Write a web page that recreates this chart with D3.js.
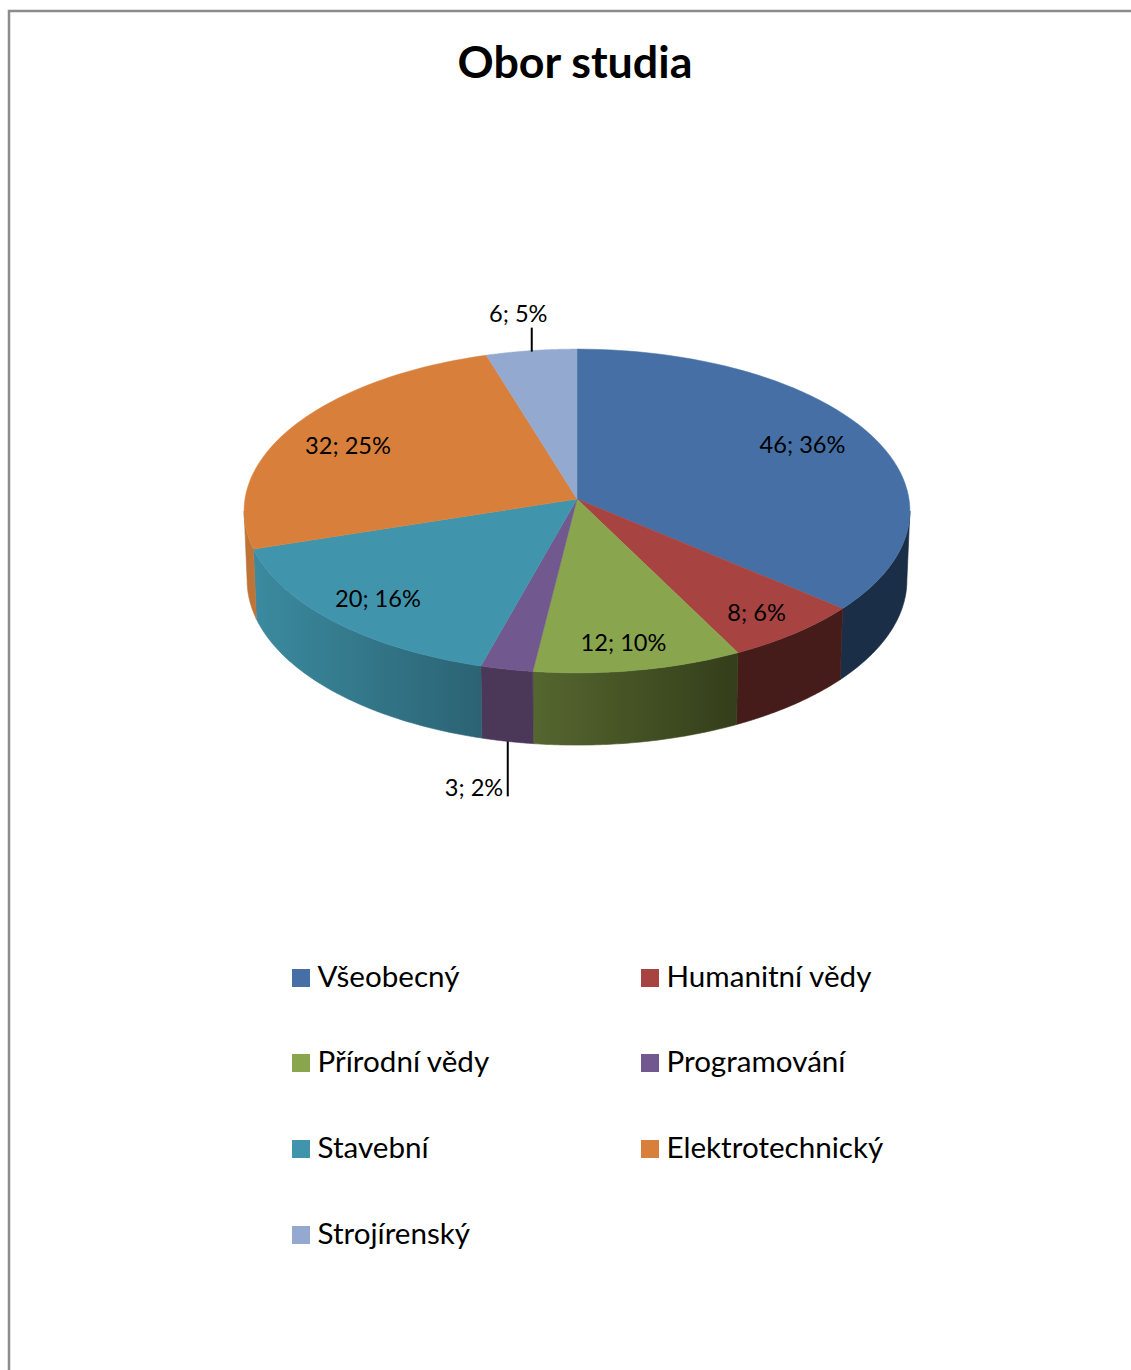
<!DOCTYPE html>
<html><head><meta charset="utf-8">
<script src="https://cdn.jsdelivr.net/npm/d3@7"></script>
<style>html,body{margin:0;padding:0;background:#fff}svg{display:block}text{font-family:Lato,"Open Sans",sans-serif;fill:#000}</style>
</head><body><div id="c"></div>
<script>
const categories = ["Všeobecný","Humanitní vědy","Přírodní vědy","Programování","Stavební","Elektrotechnický","Strojírenský"];
const values = [46,8,12,3,20,32,6];
const percents = [36,6,10,2,16,25,5];
const topColors = ["#4670a5","#a74442","#89a54e","#71588f","#4095ad","#d8803b","#93a9cf"];
const sideFrom = ["#1a2e47","#451c1a","#56662f","#4b3757","#3b8a9f","#bf7437","#93a9cf"];
const sideTo = ["#1a2e47","#451c1a","#333e1a","#4b3757","#2b6373","#bf7437","#93a9cf"];
const labelRadius = [0.78,0.84,0.86,0,0.83,0.8,0];
const labelNudge = [[-4,-3],[-2,2.5],[-6,-1.5],[0,0],[1,-1],[0,5],[0,0]];
const legendCols = [292,641];
const legendRows = [977,1062,1148,1234];

const W=1131,H=1370,cx=577;
const svg=d3.select("#c").append("svg").attr("width",W).attr("height",H);
const defs=svg.append("defs");

// Perspective projection of the disc: top face and bottom face
const topDisc={y0:499,a:161,b:332,k:0.074};
const botDisc={y0:568,a:164,b:329,k:0.074};
function project(d,r,t){
  const u=r*Math.sin(t),v=-r*Math.cos(t),q=1-d.k*v;
  return [cx+d.b*u/q,d.y0+d.a*v/q];
}
const arcPts=(d,t0,t1)=>d3.range(0,61).map(i=>project(d,1,t0+(t1-t0)*i/60));
const line=d3.line();
const arcs=d3.pie().sort(null)(values);

// frame
svg.append("path").attr("d",`M${W},11H9V${H}`).attr("fill","none").attr("stroke","#8c8c8c").attr("stroke-width",2.5);

// side walls: only the part between the two silhouette points faces the viewer
const visFrom=Math.acos(-topDisc.k),visTo=2*Math.PI-visFrom;
arcs.forEach((s,i)=>{
  const t0=Math.max(s.startAngle,visFrom),t1=Math.min(s.endAngle,visTo);
  if(t1<=t0) return;
  const pts=arcPts(topDisc,t0,t1).concat(arcPts(botDisc,t0,t1).reverse());
  const id="g"+i,xs=pts.map(p=>p[0]);
  const g=defs.append("linearGradient").attr("id",id).attr("gradientUnits","userSpaceOnUse")
    .attr("x1",d3.min(xs)).attr("x2",d3.max(xs)).attr("y1",0).attr("y2",0);
  g.append("stop").attr("offset",0).attr("stop-color",sideFrom[i]);
  g.append("stop").attr("offset",1).attr("stop-color",sideTo[i]);
  svg.append("path").attr("d",line(pts)+"Z").attr("fill",`url(#${id})`).attr("stroke",`url(#${id})`).attr("stroke-width",0.6);
});
// top face
arcs.forEach((s,i)=>{
  const pts=[project(topDisc,0,0)].concat(arcPts(topDisc,s.startAngle,s.endAngle));
  svg.append("path").attr("d",line(pts)+"Z").attr("fill",topColors[i]).attr("stroke",topColors[i]).attr("stroke-width",0.5);
});

// labels
const labelSize=23.6;
arcs.forEach((s,i)=>{
  const mid=(s.startAngle+s.endAngle)/2,txt=`${values[i]}; ${percents[i]}%`;
  if(labelRadius[i]>0){
    const p=project(topDisc,labelRadius[i],mid);
    svg.append("text").attr("x",p[0]+labelNudge[i][0]).attr("y",p[1]+labelNudge[i][1]).attr("dy","0.35em")
      .attr("text-anchor","middle").attr("font-size",labelSize).text(txt);
  } else if(Math.cos(mid)>0){ // leader upward from top rim
    const p=project(topDisc,1,mid);
    svg.append("line").attr("x1",p[0]+0.5).attr("x2",p[0]+0.5).attr("y1",p[1]+1).attr("y2",p[1]-23).attr("stroke","#000").attr("stroke-width",2);
    svg.append("text").attr("x",p[0]-13).attr("y",p[1]-37).attr("dy","0.35em").attr("text-anchor","middle").attr("font-size",labelSize).text(txt);
  } else { // leader downward from bottom rim
    const p=project(botDisc,1,mid);
    svg.append("line").attr("x1",p[0]+0.5).attr("x2",p[0]+0.5).attr("y1",p[1]).attr("y2",p[1]+55).attr("stroke","#000").attr("stroke-width",2);
    svg.append("text").attr("x",p[0]-4).attr("y",p[1]+46).attr("dy","0.35em").attr("text-anchor","end").attr("font-size",labelSize).text(txt);
  }
});

// title
svg.append("text").attr("x",575).attr("y",78).attr("text-anchor","middle").attr("font-size",44.8).attr("font-weight",700).text("Obor studia");

// legend
categories.forEach((c,i)=>{
  const x=legendCols[i%2],y=legendRows[Math.floor(i/2)];
  svg.append("rect").attr("x",x).attr("y",y-9+1).attr("width",18).attr("height",18).attr("fill",topColors[i]);
  svg.append("text").attr("x",x+25.5).attr("y",y).attr("dy","0.35em").attr("font-size",29.6).text(c);
});
</script></body></html>
